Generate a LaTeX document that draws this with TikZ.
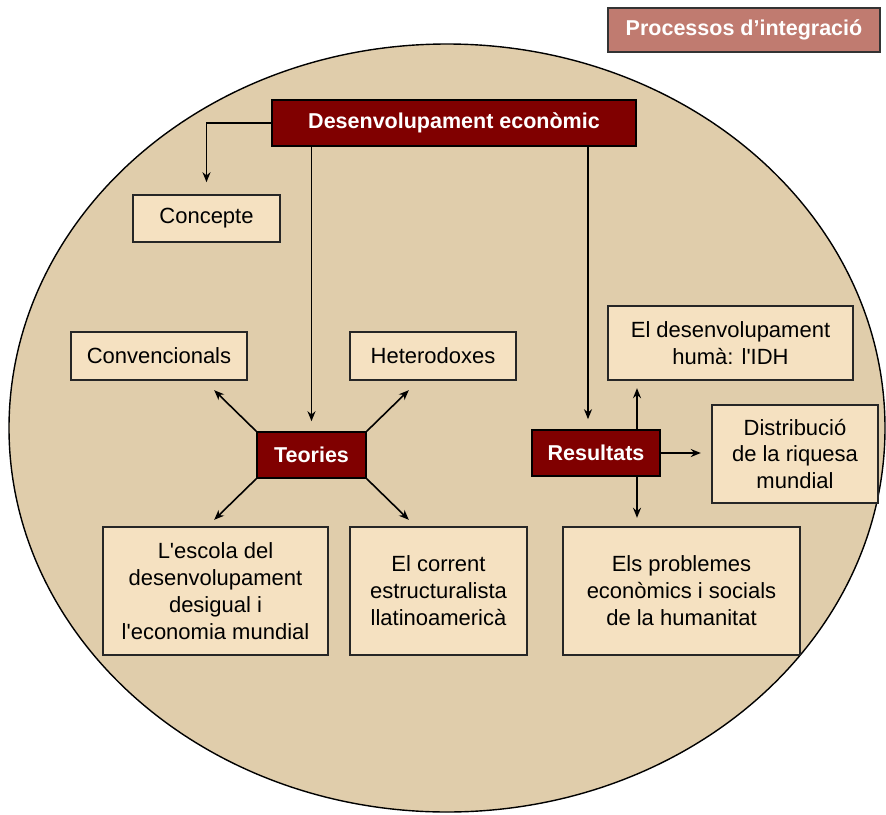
\documentclass[tikz,border=0pt]{standalone}
\usepackage{fontspec}
\setmainfont{Liberation Sans}
\usetikzlibrary{arrows.meta, positioning}
\definecolor{ovalfill}{HTML}{E0CDAB}
\definecolor{boxfill}{HTML}{F5E1C1}
\definecolor{darkred}{HTML}{800000}
\definecolor{titlered}{HTML}{C07B70}

\begin{document}
\begin{tikzpicture}[
>={Stealth[length=10pt,width=8pt]},
x=1pt, y=-1pt,
line width=1.6pt,
light/.style={draw=black!85, fill=boxfill, align=center, inner sep=0pt,
  font=\fontsize{22}{27}\selectfont},
dark/.style={draw=black, fill=darkred, text=white, inner sep=0pt,
  font=\fontsize{21.5}{25}\selectfont\bfseries},
]
\useasboundingbox (0,0) rectangle (886,814);
\draw[fill=ovalfill, line width=1.4pt] (447,428) ellipse [x radius=438pt, y radius=384pt];

\node[dark, fill=titlered, draw=black!80, minimum width=272pt, minimum height=44pt] (T) at (744,30) {Processos d’integració};
\node[dark, minimum width=364pt, minimum height=46pt] (D) at (454,123) {Desenvolupament econòmic};
\node[light, minimum width=147pt, minimum height=47pt] (C) at (206.5,218.5) {Concepte};

\node[dark, minimum width=109pt, minimum height=46pt] (Te) at (311.5,455) {Teories};
\node[light, minimum width=176pt, minimum height=48pt] (Cv) at (159,356) {Convencionals};
\node[light, minimum width=166pt, minimum height=48pt] (H) at (433,356) {Heterodoxes};
\node[light, minimum width=225pt, minimum height=128pt] (E) at (215.5,591)
  {L\textquotesingle escola del\\desenvolupament\\desigual i\\l\textquotesingle economia mundial};
\node[light, minimum width=177pt, minimum height=128pt] (Ec) at (438.5,591)
  {El corrent\\estructuralista\\llatinoamericà};

\node[dark, minimum width=128pt, minimum height=46pt] (R) at (596,453) {Resultats};
\node[light, minimum width=245pt, minimum height=74pt] (I) at (730.5,343)
  {El desenvolupament\\humà: l\textquotesingle IDH};
\node[light, minimum width=166pt, minimum height=98pt] (Di) at (795,454)
  {Distribució\\de la riquesa\\mundial};
\node[light, minimum width=237pt, minimum height=128pt] (P) at (681.5,591)
  {Els problemes\\econòmics i socials\\de la humanitat};

\draw[->] (D.west) -| ([yshift=12pt]C.north);
\draw[->] (D.south -| Te.north) -- ([yshift=10pt]Te.north);
\draw[->] ([xshift=-8pt]R.north |- D.south) -- ([xshift=-8pt,yshift=10pt]R.north);

\draw[->] (Te.north west) -- ++(-42,-41);
\draw[->] (Te.north east) -- ++(42,-41);
\draw[->] (Te.south west) -- ++(-42,41);
\draw[->] (Te.south east) -- ++(42,41);

\draw[->] ([xshift=41pt]R.north) -- ++(0,-41);
\draw[->] ([xshift=41pt]R.south) -- ++(0,41);
\draw[->] (R.east) -- ++(40,0);
\end{tikzpicture}
\end{document}
